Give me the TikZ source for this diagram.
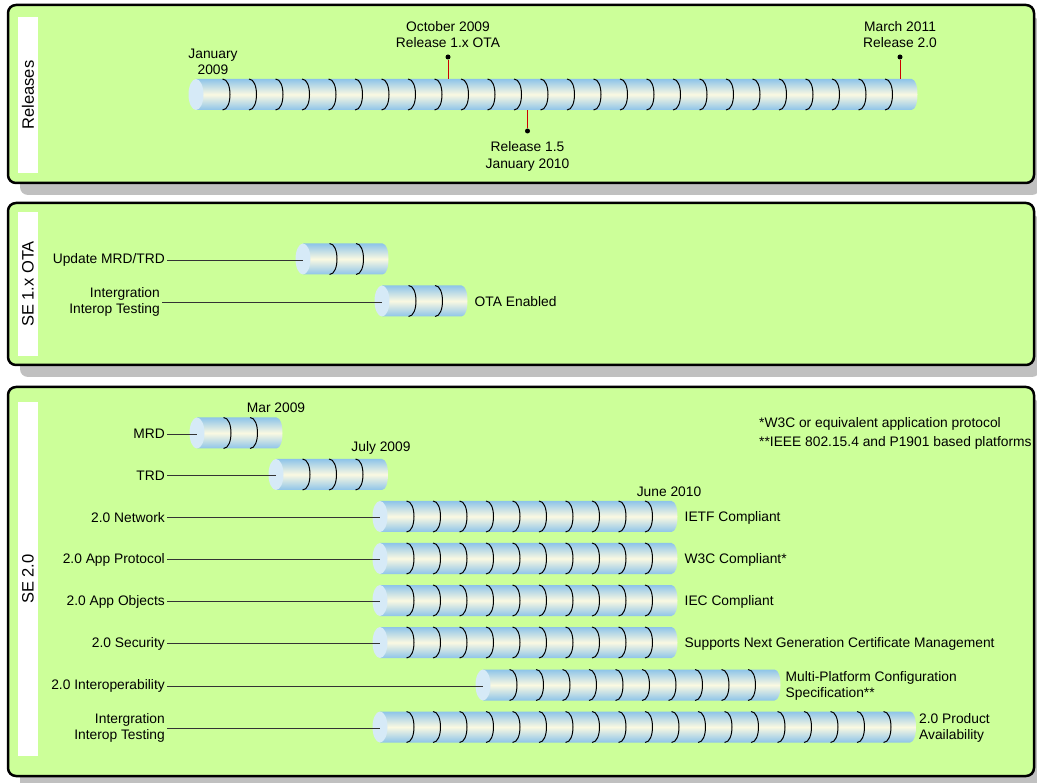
\documentclass[tikz,border=0pt]{standalone}
\usepackage{fontspec}
\setmainfont{Liberation Sans}
\usepackage{tikz}
\usetikzlibrary{positioning}
\definecolor{panelgreen}{RGB}{204,255,153}
\definecolor{shadowgray}{RGB}{192,192,192}
\definecolor{tubeblue}{RGB}{142,196,233}
\definecolor{tubecream}{RGB}{250,249,226}
\definecolor{capblue}{RGB}{214,234,247}
\definecolor{relred}{RGB}{204,0,0}

% #1 name, (#2,#3) centre of the left cap, #4 segments
\newcommand{\tube}[4]{%
  \begin{scope}[shift={(#2,#3)}]
    \pgfmathsetmacro{\tubelen}{#4*26.5}
    \pgfmathtruncatemacro{\tubelast}{#4-1}
    \shade[top color=tubeblue, bottom color=tubeblue, middle color=tubecream]
      (0,-15.5) -- (\tubelen,-15.5) .. controls (\tubelen+8,-15.5) and (\tubelen+8,15.5) .. (\tubelen,15.5) -- (0,15.5) -- cycle;
    \fill[capblue] (0,0) ellipse [x radius=7.5, y radius=15.5];
    \foreach \k in {1,...,\tubelast}
      \draw[line width=1pt] (\k*26.5,-15.5) .. controls (\k*26.5+10,-15.5) and (\k*26.5+10,15.5) .. (\k*26.5,15.5);
    \coordinate (#1) at (0,0);
    \coordinate (#1 end) at (\tubelen,0);
  \end{scope}}

\begin{document}
\begin{tikzpicture}[
  x=1pt, y=-1pt,
  panel/.style={draw=black, line width=2.5pt, rounded corners=8pt, fill=panelgreen},
  panelshadow/.style={fill=shadowgray, rounded corners=8pt},
  labelstrip/.style={fill=white},
  paneltitle/.style={rotate=90, font=\fontsize{16.5}{19}\selectfont},
  txt/.style={font=\fontsize{13.8}{16.5}\selectfont, inner sep=2pt, align=center, yshift=-1pt},
  lbl/.style={txt, anchor=east, align=right},
  conn/.style={draw=black!80, line width=0.8pt},
  relline/.style={draw=relred, line width=1pt},
  reldot/.style={circle, fill=black, inner sep=0pt, minimum size=5pt}
]
\useasboundingbox (0,0) rectangle (1037,783);

% panels
\fill[panelshadow] (20,17) rectangle (1040,195);
\draw[panel] (8,5) rectangle (1034,183);
\fill[labelstrip] (18,17) rectangle (38,173);
\node[paneltitle] (relt) at (28,95) {Releases};

\fill[panelshadow] (20,215) rectangle (1040,377);
\draw[panel] (8,203) rectangle (1034,365);
\fill[labelstrip] (18,212) rectangle (38,356);
\node[paneltitle] (otat) at (28,284) {SE 1.x OTA};

\fill[panelshadow] (20,399) rectangle (1040,790);
\draw[panel] (8,387) rectangle (1034,776);
\fill[labelstrip] (18,402) rectangle (38,756);
\node[paneltitle] (se2t) at (28,579) {SE 2.0};

% Releases
\tube{reltube}{196}{94.5}{27}
\node[txt] (jan09) at (213,61) {January\\2009};

\coordinate (octtop) at (448,79);
\node[reldot] (octdot) at (448,57) {};
\node[txt, above=5pt of octdot] (oct09) {October 2009\\Release 1.x OTA};
\draw[relline] (octdot) -- (octtop);

\coordinate (martop) at (900,79);
\node[reldot] (mardot) at (900,57) {};
\node[txt, above=5pt of mardot] (mar11) {March 2011\\Release 2.0};
\draw[relline] (mardot) -- (martop);

\coordinate (janbot) at (527.5,110);
\node[reldot] (jandot) at (527.5,131) {};
\node[txt, below=5pt of jandot] (jan10) {Release 1.5\\January 2010};
\draw[relline] (jandot) -- (janbot);

% SE 1.x OTA
\tube{updtube}{303}{259}{3}
\tube{inttube}{382}{301}{3}
\node[lbl] (upd) at (167,259) {Update MRD/TRD};
\node[lbl] (int) at (162,301) {Intergration\\Interop Testing};
\node[txt, right=11pt of inttube end] (otaen) {OTA Enabled};
\draw[conn] (upd) -- (upd -| updtube);
\draw[conn] (int) -- (int -| inttube);

% SE 2.0
\tube{mrdtube}{197}{433}{3}
\tube{trdtube}{276}{474.5}{4}
\tube{nettube}{380}{516.5}{11}
\tube{apptube}{380}{558.5}{11}
\tube{objtube}{380}{600.5}{11}
\tube{sectube}{380}{642.5}{11}
\tube{iotube}{483}{685}{11}
\tube{testtube}{380}{727}{20}

\node[txt] (mar09) at (276,407) {Mar 2009};
\node[txt] (jul09) at (381,447) {July 2009};
\node[txt] (jun10) at (669,491) {June 2010};
\node[txt, anchor=west, align=left] (notes) at (757,432.5) {*W3C or equivalent application protocol\\[2pt]**IEEE 802.15.4 and P1901 based platforms};

\node[lbl] (mrd) at (167,433) {MRD};
\node[lbl] (trd) at (167,474.5) {TRD};
\node[lbl] (net) at (167,516.5) {2.0 Network};
\node[lbl] (app) at (167,558.5) {2.0 App Protocol};
\node[lbl] (obj) at (167,600.5) {2.0 App Objects};
\node[lbl] (sec) at (167,642.5) {2.0 Security};
\node[lbl] (io) at (167,685) {2.0 Interoperability};
\node[lbl] (test) at (167,727) {Intergration\\Interop Testing};

\node[txt, right=11pt of nettube end] (ietf) {IETF Compliant};
\node[txt, right=11pt of apptube end] (w3c) {W3C Compliant*};
\node[txt, right=11pt of objtube end] (iec) {IEC Compliant};
\node[txt, right=11pt of sectube end] (cert) {Supports Next Generation Certificate Management};
\node[txt, align=left, right=9pt of iotube end] (multi) {Multi-Platform Configuration\\Specification**};
\node[txt, align=left, right=7pt of testtube end] (prod) {2.0 Product\\Availability};

\draw[conn] (mrd) -- (mrd -| mrdtube);
\draw[conn] (trd) -- (trd -| trdtube);
\draw[conn] (net) -- (net -| nettube);
\draw[conn] (app) -- (app -| apptube);
\draw[conn] (obj) -- (obj -| objtube);
\draw[conn] (sec) -- (sec -| sectube);
\draw[conn] (io) -- (io -| iotube);
\draw[conn] (test) -- (test -| testtube);
\end{tikzpicture}
\end{document}
